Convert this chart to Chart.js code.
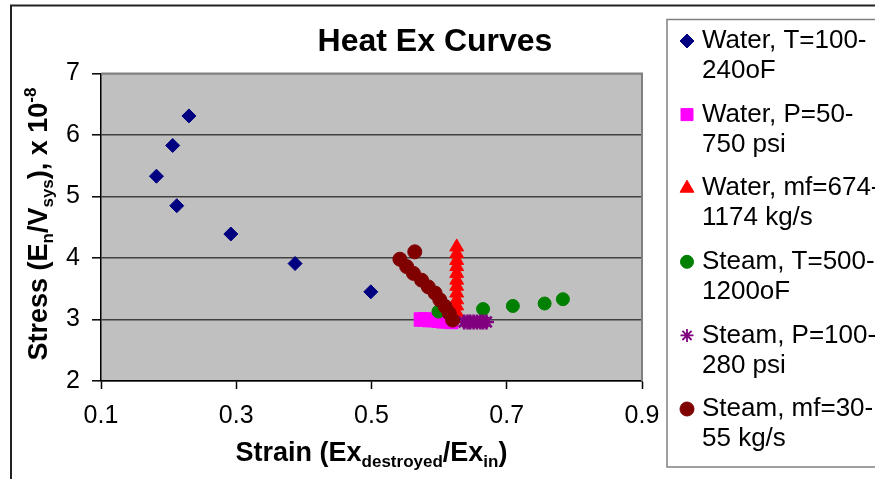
<!DOCTYPE html>
<html>
<head>
<meta charset="utf-8">
<script src="https://cdn.jsdelivr.net/npm/chart.js@4.4.1/dist/chart.umd.min.js"></script>
<style>
  html, body { margin: 0; padding: 0; background: #fff; overflow: hidden; }
</style>
</head>
<body>
<canvas id="heatChart" width="875" height="479"></canvas>
<script>
// ---- data ----
const seriesNames = [
  ['Water, T=100-', '240oF'],
  ['Water, P=50-', '750 psi'],
  ['Water, mf=674-', '1174 kg/s'],
  ['Steam, T=500-', '1200oF'],
  ['Steam, P=100-', '280 psi'],
  ['Steam, mf=30-', '55 kg/s']
];

const waterTempX = [0.182, 0.206, 0.230, 0.212, 0.292, 0.387, 0.499];
const waterTempY = [5.33, 5.83, 6.31, 4.85, 4.39, 3.91, 3.45];

const waterPresX = [0.573, 0.579, 0.586, 0.593, 0.600, 0.606, 0.612, 0.618];
const waterPresY = [3.00, 3.00, 2.99, 2.99, 2.98, 2.97, 2.97, 2.96];

const waterFlowX = [0.626, 0.626, 0.626, 0.626, 0.626, 0.626, 0.626, 0.626, 0.626, 0.626, 0.626];
const waterFlowY = [4.18, 4.07, 3.96, 3.86, 3.75, 3.64, 3.54, 3.43, 3.32, 3.22, 3.11];

const steamTempX = [0.599, 0.665, 0.709, 0.756, 0.783];
const steamTempY = [3.13, 3.17, 3.22, 3.26, 3.33];

const steamPresX = [0.637, 0.642, 0.646, 0.651, 0.656, 0.661, 0.665, 0.670];
const steamPresY = [2.96, 2.96, 2.96, 2.96, 2.96, 2.96, 2.96, 2.96];

const steamFlowX = [0.564, 0.542, 0.552, 0.562, 0.574, 0.584, 0.594, 0.601, 0.609, 0.615, 0.620];
const steamFlowY = [4.10, 3.98, 3.86, 3.75, 3.64, 3.53, 3.43, 3.32, 3.21, 3.10, 2.99];

const xTicks = [0.1, 0.3, 0.5, 0.7, 0.9];
const yTicks = [2, 3, 4, 5, 6, 7];

// ---- styles ----
const FONT = "'Liberation Sans', Arial, sans-serif";
const markers = [
  { style: 'rectRot',  color: '#000080', radius: 7,   width: 1 },
  { style: 'rect',     color: '#FF00FF', radius: 9.5, width: 1 },
  { style: 'triangle', color: '#FF0000', radius: 8,   width: 1 },
  { style: 'circle',   color: '#008000', radius: 6.5, width: 1 },
  { style: 'star',     color: '#800080', radius: 7.5, width: 2.6 },
  { style: 'circle',   color: '#800000', radius: 7,   width: 1 }
];

function zip(xs, ys) {
  return xs.map((x, i) => ({ x: x, y: ys[i] }));
}

const seriesData = [
  zip(waterTempX, waterTempY),
  zip(waterPresX, waterPresY),
  zip(waterFlowX, waterFlowY),
  zip(steamTempX, steamTempY),
  zip(steamPresX, steamPresY),
  zip(steamFlowX, steamFlowY)
];

const datasets = seriesData.map((data, i) => ({
  label: seriesNames[i].join(''),
  data: data,
  showLine: false,
  order: seriesData.length - i, // later series drawn on top, like Excel
  pointStyle: markers[i].style,
  pointRadius: markers[i].radius,
  pointBackgroundColor: markers[i].color,
  pointBorderColor: markers[i].color,
  pointBorderWidth: markers[i].width
}));

// draw text with sub/superscript pieces, centred on cx
function drawRich(ctx, parts, cx, cy, baseFont, smallFont) {
  let total = 0;
  parts.forEach(p => {
    ctx.font = p[1] ? smallFont : baseFont;
    total += ctx.measureText(p[0]).width;
  });
  let x = cx - total / 2;
  ctx.textAlign = 'left';
  ctx.textBaseline = 'middle';
  parts.forEach(p => {
    ctx.font = p[1] ? smallFont : baseFont;
    const dy = p[1] === 1 ? 8 : (p[1] === 2 ? -9 : 0);
    ctx.fillText(p[0], x, cy + dy);
    x += ctx.measureText(p[0]).width;
  });
}

function drawMarker(ctx, m, x, y) {
  ctx.fillStyle = m.color;
  ctx.strokeStyle = m.color;
  ctx.lineWidth = m.style === 'star' ? 1.8 : 1;
  const r = m.style === 'rect' ? 8.5 : (m.style === 'star' ? 6.5 : m.radius);
  Chart.helpers.drawPoint(ctx, { pointStyle: m.style, radius: r, borderWidth: ctx.lineWidth }, x, y);
}

const decorPlugin = {
  id: 'decor',
  beforeDraw(chart) {
    const { ctx, chartArea: a } = chart;
    ctx.save();
    ctx.fillStyle = '#ffffff';
    ctx.fillRect(0, 0, chart.width, chart.height);
    ctx.fillStyle = '#c0c0c0';
    ctx.fillRect(a.left, a.top, a.right - a.left, a.bottom - a.top);
    ctx.restore();
  },
  beforeDatasetsDraw(chart) {
    const { ctx, chartArea: a } = chart;
    ctx.save();
    ctx.strokeStyle = '#808080';
    ctx.lineWidth = 2;
    ctx.beginPath();
    ctx.moveTo(a.left, a.top);
    ctx.lineTo(a.right, a.top);
    ctx.lineTo(a.right, a.bottom);
    ctx.stroke();
    ctx.restore();
  },
  afterDraw(chart) {
    const { ctx, chartArea: a } = chart;
    ctx.save();

    // outer frame
    ctx.strokeStyle = '#222';
    ctx.lineWidth = 2;
    ctx.beginPath();
    ctx.moveTo(11, chart.height);
    ctx.lineTo(11, 5.5);
    ctx.lineTo(chart.width, 5.5);
    ctx.stroke();

    // title
    ctx.fillStyle = '#000';
    ctx.font = 'bold 32px ' + FONT;
    ctx.textAlign = 'center';
    ctx.textBaseline = 'middle';
    ctx.fillText('Heat Ex Curves', 435, 42);

    // axis titles
    const base = 'bold 27px ' + FONT;
    const small = 'bold 17px ' + FONT;
    drawRich(ctx, [['Strain (Ex', 0], ['destroyed', 1], ['/Ex', 0], ['in', 1], [')', 0]],
      (a.left + a.right) / 2, 454, base, small);

    ctx.save();
    ctx.translate(40, 224);
    ctx.rotate(-Math.PI / 2);
    drawRich(ctx, [['Stress (E', 0], ['n', 1], ['/V', 0], ['sys', 1], ['), x 10', 0], ['-8', 2]],
      0, 0, base, small);
    ctx.restore();

    // legend
    ctx.strokeStyle = '#808080';
    ctx.lineWidth = 1.5;
    ctx.strokeRect(667, 19.5, 300, 447.5);
    seriesNames.forEach((lines, i) => {
      const y = 41 + i * 73.6;
      drawMarker(ctx, markers[i], 687, y);
      ctx.fillStyle = '#000';
      ctx.font = '26px ' + FONT;
      ctx.textAlign = 'left';
      ctx.textBaseline = 'middle';
      ctx.fillText(lines[0], 702, y);
      ctx.fillText(lines[1], 702, y + 30);
    });

    ctx.restore();
  }
};

new Chart(document.getElementById('heatChart'), {
  type: 'scatter',
  data: { datasets: datasets },
  options: {
    responsive: false,
    animation: false,
    devicePixelRatio: 1,
    layout: { padding: { top: 73.5, right: 233, bottom: 0, left: 0 } },
    plugins: {
      legend: { display: false },
      title: { display: false },
      tooltip: { enabled: false }
    },
    scales: {
      x: {
        type: 'linear',
        min: 0.1,
        max: 0.9,
        afterBuildTicks: s => { s.ticks = xTicks.map(v => ({ value: v })); },
        afterFit: s => { s.height = 98; },
        ticks: {
          callback: v => v.toFixed(1),
          color: '#000',
          font: { size: 25, family: FONT },
          padding: 12,
          maxRotation: 0,
          autoSkip: false
        },
        grid: { drawOnChartArea: false, tickLength: 8, tickColor: '#000', tickWidth: 1.5 },
        border: { color: '#000', width: 1.5 }
      },
      y: {
        type: 'linear',
        min: 2,
        max: 7,
        afterBuildTicks: s => { s.ticks = yTicks.map(v => ({ value: v })); },
        afterFit: s => { s.width = 101; },
        ticks: {
          callback: v => String(v),
          color: '#000',
          font: { size: 25, family: FONT },
          padding: 12,
          autoSkip: false
        },
        grid: {
          color: c => (c.tick && c.tick.value === 7) ? '#808080' : '#404040',
          lineWidth: 1.6,
          tickLength: 9,
          tickColor: '#000',
          tickWidth: 1.5
        },
        border: { color: '#000', width: 1.5 }
      }
    }
  },
  plugins: [decorPlugin]
});
</script>
</body>
</html>
